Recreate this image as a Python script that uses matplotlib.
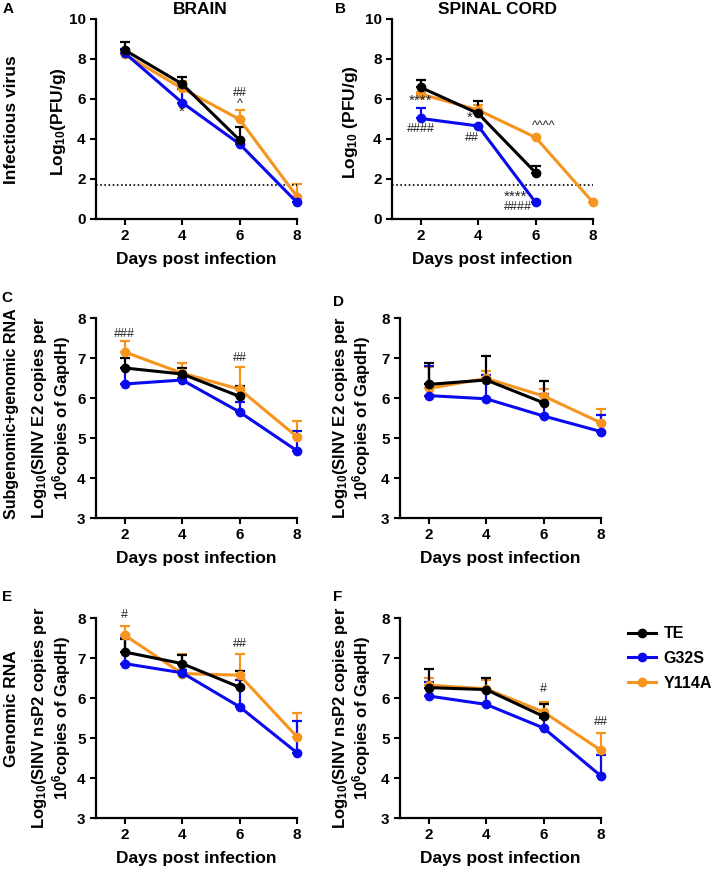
import numpy as np
import matplotlib
matplotlib.use("Agg")
import matplotlib.pyplot as plt
from matplotlib.lines import Line2D

plt.rcParams["font.family"] = ["Liberation Sans", "DejaVu Sans"]
plt.rcParams["font.weight"] = "bold"
plt.rcParams["mathtext.fontset"] = "custom"
plt.rcParams["mathtext.rm"] = "Liberation Sans:bold"
plt.rcParams["mathtext.bf"] = "Liberation Sans:bold"
plt.rcParams["mathtext.default"] = "rm"

days = [2, 4, 6, 8]
strains = ["TE", "G32S", "Y114A"]
colors = {"TE": "#000000", "G32S": "#0a0aee", "Y114A": "#f7941d"}
nan = np.nan

# panel A - brain, infectious virus (mean, mean+SD)
brain_te = [8.45, 6.75, 3.95, nan]
brain_te_up = [8.87, 7.08, 4.58, nan]
brain_g32s = [8.3, 5.82, 3.75, 0.83]
brain_g32s_up = [8.5, 6.5, 3.9, 0.83]
brain_y114a = [8.23, 6.53, 4.98, 1.12]
brain_y114a_up = [8.3, 6.9, 5.45, 1.73]

# panel B - spinal cord, infectious virus
sc_te = [6.58, 5.28, 2.32, nan]
sc_te_up = [6.95, 5.9, 2.65, nan]
sc_g32s = [5.03, 4.65, 0.83, nan]
sc_g32s_up = [5.53, 4.65, 0.83, nan]
sc_y114a = [6.25, 5.45, 4.08, 0.83]
sc_y114a_up = [6.35, 5.7, 4.08, 0.83]

# panel C - brain E2 RNA
e2b_te = [6.75, 6.6, 6.04, nan]
e2b_te_up = [7.0, 6.76, 6.3, nan]
e2b_g32s = [6.35, 6.45, 5.65, 4.68]
e2b_g32s_up = [6.76, 6.5, 5.9, 5.17]
e2b_y114a = [7.15, 6.62, 6.22, 5.03]
e2b_y114a_up = [7.43, 6.88, 6.78, 5.43]

# panel D - spinal cord E2 RNA
e2s_te = [6.34, 6.45, 5.88, nan]
e2s_te_up = [6.88, 7.05, 6.43, nan]
e2s_g32s = [6.06, 5.98, 5.55, 5.16]
e2s_g32s_up = [6.8, 6.57, 6.11, 5.57]
e2s_y114a = [6.24, 6.49, 6.05, 5.38]
e2s_y114a_up = [6.78, 6.67, 6.22, 5.73]

# panel E - brain nsP2 RNA
nsb_te = [7.15, 6.86, 6.27, nan]
nsb_te_up = [7.48, 7.07, 6.67, nan]
nsb_g32s = [6.86, 6.63, 5.78, 4.63]
nsb_g32s_up = [7.5, 6.7, 6.44, 5.43]
nsb_y114a = [7.57, 6.61, 6.57, 5.03]
nsb_y114a_up = [7.8, 7.09, 7.09, 5.63]

# panel F - spinal cord nsP2 RNA
nss_te = [6.26, 6.21, 5.54, nan]
nss_te_up = [6.72, 6.5, 5.84, nan]
nss_g32s = [6.05, 5.84, 5.25, 4.05]
nss_g32s_up = [6.4, 6.2, 5.5, 4.58]
nss_y114a = [6.32, 6.23, 5.65, 4.69]
nss_y114a_up = [6.51, 6.45, 5.9, 5.12]

W, H = 714, 872
fig = plt.figure(figsize=(W / 100, H / 100), dpi=100)


def px_axes(left, top, right, bottom):
    return fig.add_axes([left / W, 1 - bottom / H, (right - left) / W, (bottom - top) / H])


def draw(ax, series, ylim, yticks):
    for name in ["Y114A", "G32S", "TE"]:
        val, up = series[name]
        val = np.array(val, dtype=float)
        up = np.array(up, dtype=float)
        err = np.vstack([np.zeros_like(val), up - val])
        eb = ax.errorbar(days, val, yerr=err, color=colors[name], marker="o", ms=6,
                         lw=2.2, elinewidth=1.6, capsize=3.5, capthick=1.6, clip_on=False)
        for art in eb.lines[1] + eb.lines[2]:
            art.set_clip_on(False)
    ax.set_xlim(1, 8)
    ax.set_ylim(*ylim)
    ax.set_xticks(days)
    ax.set_yticks(yticks)
    for s in ["top", "right"]:
        ax.spines[s].set_visible(False)
    for s in ["left", "bottom"]:
        ax.spines[s].set_linewidth(1.6)
    ax.tick_params(width=1.5, length=4, labelsize=11)
    for lab in ax.get_xticklabels() + ax.get_yticklabels():
        lab.set_fontweight("bold")
    ax.set_xlabel("Days post infection", fontsize=12.5, fontweight="bold", labelpad=6)


def note(ax, x, y, s, size=9):
    ax.text(x, y, s, ha="center", va="center", fontsize=size, fontweight="normal",
            color="#222222", clip_on=False)


axA = px_axes(96, 19, 297, 219)
draw(axA, {"TE": (brain_te, brain_te_up), "G32S": (brain_g32s, brain_g32s_up),
           "Y114A": (brain_y114a, brain_y114a_up)}, (0, 10), [0, 2, 4, 6, 8, 10])
axA.axhline(1.7, color="black", ls=(0, (1, 1.5)), lw=1.2)
note(axA, 4, 5.35, "*", 11)
note(axA, 6, 6.3, "##")
note(axA, 6, 5.75, "^")

axB = px_axes(392, 19, 593, 219)
draw(axB, {"TE": (sc_te, sc_te_up), "G32S": (sc_g32s, sc_g32s_up),
           "Y114A": (sc_y114a, sc_y114a_up)}, (0, 10), [0, 2, 4, 6, 8, 10])
axB.axhline(1.7, color="black", ls=(0, (1, 1.5)), lw=1.2)
note(axB, 2, 5.9, "****", 11)
note(axB, 2, 4.48, "####")
note(axB, 3.7, 5.05, "*", 11)
note(axB, 3.78, 4.03, "##")
note(axB, 6.3, 4.65, "^^^^")
note(axB, 5.3, 1.1, "****", 11)
note(axB, 5.4, 0.6, "####")

axC = px_axes(96, 318, 297, 518)
draw(axC, {"TE": (e2b_te, e2b_te_up), "G32S": (e2b_g32s, e2b_g32s_up),
           "Y114A": (e2b_y114a, e2b_y114a_up)}, (3, 8), [3, 4, 5, 6, 7, 8])
note(axC, 2, 7.61, "###")
note(axC, 6, 6.99, "##")

axD = px_axes(400, 318, 601, 518)
draw(axD, {"TE": (e2s_te, e2s_te_up), "G32S": (e2s_g32s, e2s_g32s_up),
           "Y114A": (e2s_y114a, e2s_y114a_up)}, (3, 8), [3, 4, 5, 6, 7, 8])

axE = px_axes(96, 618, 297, 818)
draw(axE, {"TE": (nsb_te, nsb_te_up), "G32S": (nsb_g32s, nsb_g32s_up),
           "Y114A": (nsb_y114a, nsb_y114a_up)}, (3, 8), [3, 4, 5, 6, 7, 8])
note(axE, 2, 8.08, "#")
note(axE, 6, 7.36, "##")

axF = px_axes(400, 618, 601, 818)
draw(axF, {"TE": (nss_te, nss_te_up), "G32S": (nss_g32s, nss_g32s_up),
           "Y114A": (nss_y114a, nss_y114a_up)}, (3, 8), [3, 4, 5, 6, 7, 8])
note(axF, 6, 6.23, "#")
note(axF, 8, 5.4, "##")


def ftext(x, y, s, **kw):
    kw.setdefault("fontsize", 12)
    fig.text(x / W, 1 - y / H, s, ha="center", va="center", fontweight="bold", **kw)


# panel letters and titles
for lab, x, y in [("A", 8, 9), ("B", 340, 9), ("C", 7, 298), ("D", 338, 302),
                  ("E", 7, 597), ("F", 338, 597)]:
    ftext(x, y, lab, fontsize=11)
ftext(200, 10, "BRAIN", fontsize=12.5)
ftext(498, 10, "SPINAL CORD", fontsize=12.5)

# row labels
ftext(12, 120, "Infectious virus", fontsize=12.5, rotation=90)
ftext(12, 414, "Subgenomic+genomic RNA", fontsize=11.5, rotation=90)
ftext(12, 709, "Genomic RNA", fontsize=12.5, rotation=90)

# y axis labels
ftext(58, 122, "Log$_{10}$(PFU/g)", fontsize=12.5, rotation=90)
ftext(350, 122, "Log$_{10}$ (PFU/g)", fontsize=12.5, rotation=90)
for x0, yc, gene in [(40, 418, "E2"), (340, 418, "E2"), (40, 718, "nsP2"), (340, 718, "nsP2")]:
    ftext(x0, yc, "Log$_{10}$(SINV " + gene + " copies per", rotation=90, fontsize=12)
    ftext(x0 + 22, yc, "10$^6$copies of GapdH)", rotation=90, fontsize=12)

handles = [Line2D([], [], color=colors[n], marker="o", ms=6, lw=2.2) for n in strains]
fig.legend(handles, strains, loc="upper left", bbox_to_anchor=(614 / W, 1 - 612 / H),
           frameon=False, prop={"weight": "bold", "size": 11.5}, handlelength=1.7,
           labelspacing=0.6, handletextpad=0.5)

fig.savefig("out.png", dpi=100)
